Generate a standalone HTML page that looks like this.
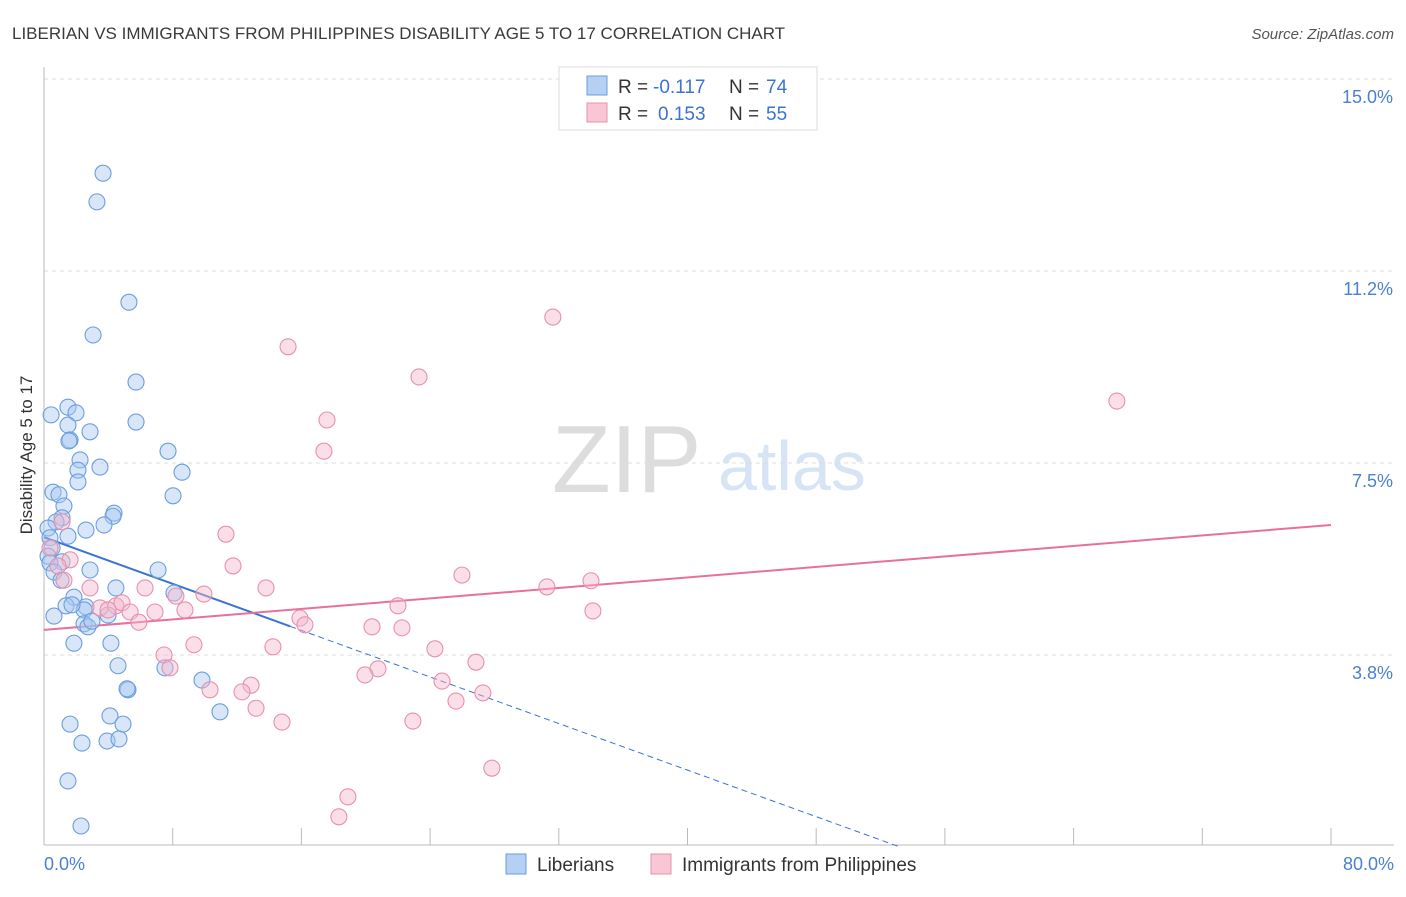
<!DOCTYPE html>
<html><head><meta charset="utf-8"><style>
body{margin:0;background:#fff;font-family:"Liberation Sans",sans-serif;}
svg text{font-family:"Liberation Sans",sans-serif;}
</style></head><body>
<svg id="chart" width="1406" height="892" xmlns="http://www.w3.org/2000/svg">
<text x="12" y="39" font-size="17" fill="#3a3a3a">LIBERIAN VS IMMIGRANTS FROM PHILIPPINES DISABILITY AGE 5 TO 17 CORRELATION CHART</text>
<text x="1394" y="39" font-size="15" fill="#555" text-anchor="end" font-style="italic">Source: ZipAtlas.com</text>
<g>
<text x="552" y="492" font-size="96" font-family="Liberation Serif" fill="#ddd">ZIP</text>
<text x="718" y="490" font-size="70" fill="#d6e4f5">atlas</text>
</g>
<g id="grid"></g><g id="axes"></g><g id="lines"></g><g id="points"></g>
<text x="32" y="455" font-size="17" fill="#333" text-anchor="middle" transform="rotate(-90 32 455)">Disability Age 5 to 17</text>
<text x="44" y="870" font-size="18" fill="#4a7fd4">0.0%</text>
<text x="1394" y="870" font-size="18" fill="#4a7fd4" text-anchor="end">80.0%</text>
<g>
<rect x="559" y="67" width="258" height="63" fill="#fff" stroke="#ddd"/>
<rect x="587" y="76" width="20" height="19" fill="#b5d0f3" stroke="#6a9ee0"/>
<text x="618" y="93" font-size="19" fill="#333">R =</text>
<text x="653" y="93" font-size="19" fill="#3a74d0">-0.117</text>
<text x="729" y="93" font-size="19" fill="#333">N =</text>
<text x="766" y="93" font-size="19" fill="#3a74d0">74</text>
<rect x="587" y="103" width="20" height="19" fill="#f8c6d5" stroke="#e890aa"/>
<text x="618" y="120" font-size="19" fill="#333">R =</text>
<text x="658" y="120" font-size="19" fill="#3a74d0">0.153</text>
<text x="729" y="120" font-size="19" fill="#333">N =</text>
<text x="766" y="120" font-size="19" fill="#3a74d0">55</text>
</g>
<g>
<rect x="506" y="854" width="20" height="20" fill="#b5d0f3" stroke="#6a9ee0"/>
<text x="537" y="871" font-size="19" fill="#333">Liberians</text>
<rect x="651" y="854" width="20" height="20" fill="#f8c6d5" stroke="#e890aa"/>
<text x="682" y="871" font-size="19" fill="#333">Immigrants from Philippines</text>
</g>
</svg>
<script>
const yTicks=[3.75,7.5,11.25,15];
const yTickLabels=["3.8%","7.5%","11.2%","15.0%"];
const xTicks=[0,8,16,24,32,40,48,56,64,72,80];
const blueX=[3.67,3.29,5.28,3.05,5.72,1.49,1.99,0.44,5.72,1.49,2.86,1.62,1.55,7.71,2.24,2.11,3.48,8.58,2.11,8.02,0.56,0.93,1.24,4.35,4.29,1.12,3.73,2.61,0.75,0.25,1.49,0.37,0.5,0.25,1.12,0.37,7.09,2.86,0.62,1.06,4.47,8.08,1.86,1.37,2.61,2.49,1.74,0.62,3.98,2.49,2.73,2.98,1.86,4.16,4.6,7.52,9.82,5.22,5.16,4.1,10.94,1.62,4.91,2.36,3.92,4.66,1.49,2.3];
const blueY=[13.16,12.6,10.64,10.0,9.08,8.59,8.48,8.44,8.3,8.24,8.11,7.95,7.93,7.73,7.56,7.36,7.42,7.32,7.13,6.86,6.93,6.88,6.66,6.52,6.46,6.43,6.29,6.19,6.35,6.23,6.07,6.04,5.84,5.68,5.57,5.55,5.41,5.41,5.37,5.21,5.06,4.96,4.88,4.71,4.69,4.63,4.73,4.51,4.53,4.36,4.3,4.41,3.98,3.98,3.54,3.5,3.26,3.07,3.09,2.56,2.64,2.4,2.4,2.03,2.07,2.11,1.29,0.41];
const pinkX=[31.63,15.17,23.31,66.69,17.59,17.4,11.31,11.75,25.98,34.0,31.26,13.8,6.28,1.24,2.86,8.2,9.94,22.0,34.12,4.47,4.85,3.48,5.35,6.9,8.76,5.9,15.91,16.22,20.39,22.25,9.32,14.23,24.3,7.46,26.85,20.76,19.95,7.83,24.74,12.87,10.32,12.31,27.28,25.61,13.18,14.79,22.93,27.84,18.89,18.33,1.12,0.37,1.62,0.87,3.98];
const pinkY=[10.35,9.77,9.18,8.71,8.34,7.73,6.11,5.49,5.31,5.2,5.08,5.06,5.06,5.21,5.06,4.9,4.94,4.71,4.61,4.71,4.77,4.67,4.59,4.59,4.63,4.39,4.47,4.34,4.3,4.28,3.95,3.91,3.87,3.75,3.61,3.48,3.36,3.5,3.24,3.16,3.07,3.03,3.01,2.85,2.71,2.44,2.46,1.54,0.98,0.59,6.35,5.84,5.61,5.49,4.63];
const blueTrend=[6.05,-0.1137,15.3,53.2];
const pinkTrend=[4.24,6.29];
const NS="http://www.w3.org/2000/svg";
const sx=v=>44+v*16.0875, sy=v=>847-v*51.2;
function mk(t,a,p){const e=document.createElementNS(NS,t);for(const k in a)e.setAttribute(k,a[k]);p.appendChild(e);return e;}
const grid=document.getElementById('grid'),axes=document.getElementById('axes'),lines=document.getElementById('lines'),pts=document.getElementById('points');
yTicks.forEach((t,i)=>{
 const l=mk('line',{x1:44,x2:1394,y1:sy(t),y2:sy(t),stroke:'#ddd','stroke-dasharray':'4,4'},grid);
 
 
 const tx=mk('text',{x:1393,y:sy(t)+24,'font-size':18,fill:'#4a7fd4','text-anchor':'end'},grid);
 tx.textContent=yTickLabels[i];
 
 
});
const ax=mk('line',{x1:44,x2:1394,y1:845,y2:845,stroke:'#bbb'},axes);


const ay=mk('line',{x1:44,x2:44,y1:67,y2:845,stroke:'#bbb'},axes);


xTicks.forEach(t=>{const l=mk('line',{x1:sx(t),x2:sx(t),y1:828,y2:845,stroke:'#bbb'},axes);
 
 });
function dot(x,y,f,s,n){const c=mk('circle',{cx:sx(x),cy:sy(y),r:8,fill:f,'fill-opacity':0.45,stroke:s,'stroke-width':1.1},pts);
 
 }
blueX.forEach((x,i)=>dot(x,blueY[i],'#a8c8f0','#6a9ee0','liberian-point'));
pinkX.forEach((x,i)=>dot(x,pinkY[i],'#f5b8cc','#e890aa','philippines-point'));
const [b0,bs,bEnd,bDash]=blueTrend;
const bl=mk('line',{x1:sx(0),y1:sy(b0),x2:sx(bEnd),y2:sy(b0+bs*bEnd),stroke:'#3a74d0','stroke-width':2},lines);


const bd=mk('line',{x1:sx(bEnd),y1:sy(b0+bs*bEnd),x2:sx(bDash),y2:sy(b0+bs*bDash),stroke:'#3a74d0','stroke-width':1,'stroke-dasharray':'6,4'},lines);


const pl=mk('line',{x1:sx(0),y1:sy(pinkTrend[0]),x2:sx(80),y2:sy(pinkTrend[1]),stroke:'#e8709a','stroke-width':2},lines);


</script>
</body></html>
